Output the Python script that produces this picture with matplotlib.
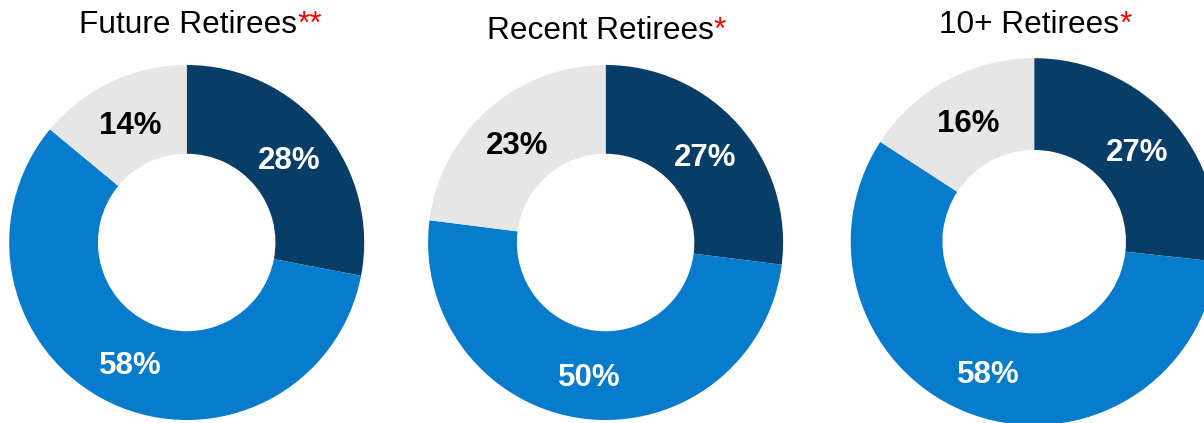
import matplotlib.pyplot as plt

# datos
titulos = ['Future Retirees', 'Recent Retirees', '10+ Retirees']
asteriscos = ['**', '*', '*']
future = [28, 58, 14]
recent = [27, 50, 23]
ten_plus = [27, 58, 16]
series = [future, recent, ten_plus]

colores = ['#083d67', '#077bcc', '#e6e6e6']
colores_texto = ['white', 'white', 'black']

# layout en pixeles (y desde abajo)
centros = [(186.7, 180.5), (605.6, 180.5), (1034.2, 181.3)]
radios = [177.5, 177.5, 183.5]
pos_titulos = [(79, 390), (487, 384), (939, 390)]

plt.rcParams['font.family'] = ['Liberation Sans', 'DejaVu Sans']

fig = plt.figure(figsize=(12.04, 4.23), dpi=100)
ax = fig.add_axes([0, 0, 1, 1])

for valores, centro, radio in zip(series, centros, radios):
    etiquetas = [f'{v}%' for v in valores]
    wedges, textos = ax.pie(valores, labels=etiquetas, colors=colores,
                            startangle=90, counterclock=False,
                            center=centro, radius=radio, labeldistance=0.75,
                            wedgeprops=dict(width=radio * 0.5, linewidth=0))
    for t, c in zip(textos, colores_texto):
        t.set_ha('center')
        t.set_va('center_baseline')
        t.set_color(c)
        t.set_fontsize(22.5)
        t.set_fontweight('bold')

# titulos con asteriscos en rojo
for titulo, ast, (x, y) in zip(titulos, asteriscos, pos_titulos):
    t = ax.text(x, y, titulo, fontsize=22.8, color='black',
                ha='left', va='baseline')
    ax.annotate(ast, xy=(1, 0), xycoords=t, fontsize=22.8, color='#ff0000',
                ha='left', va='bottom')

ax.set_aspect('auto')
ax.set_xlim(0, 1204)
ax.set_ylim(0, 423)
ax.axis('off')

plt.savefig('out.png', dpi=100, facecolor='white')
plt.close()
